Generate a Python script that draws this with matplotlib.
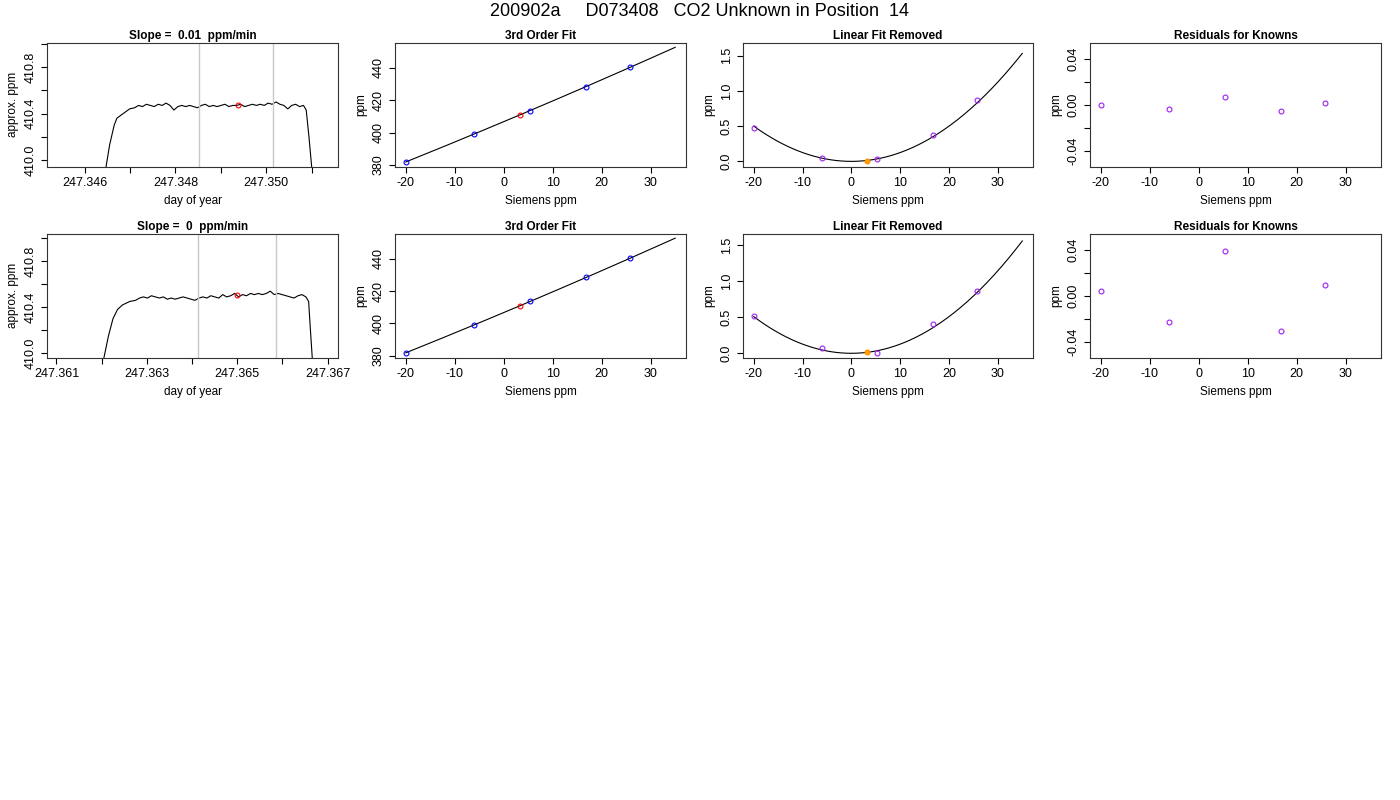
import numpy as np
import matplotlib
matplotlib.use("Agg")
import matplotlib.pyplot as plt

plt.rcParams['font.family'] = ['Liberation Sans', 'DejaVu Sans']
plt.rcParams['axes.unicode_minus'] = False

title = "200902a     D073408   CO2 Unknown in Position  14"
slopes = ["0.01", "0"]

# time series (row 1)
t1_rise = [247.34640, 247.34647, 247.34655, 247.34665, 247.34671, 247.34685, 247.34699]
v1_rise = [409.80, 409.94, 410.13, 410.30, 410.36, 410.40, 410.44]
v1_plat = [410.45, 410.47, 410.46, 410.48, 410.47, 410.46, 410.48, 410.47, 410.49, 410.47, 410.43,
           410.46, 410.47, 410.46, 410.47, 410.46, 410.45, 410.47, 410.48, 410.46, 410.47, 410.46,
           410.47, 410.48, 410.46, 410.47, 410.47, 410.48, 410.46, 410.47, 410.48, 410.47, 410.48,
           410.47, 410.49, 410.48, 410.50, 410.48, 410.47, 410.44, 410.47, 410.48, 410.46, 410.47]
t1_plat_range = (247.34710, 247.35082)
t1_drop = [247.35088, 247.35094, 247.35100, 247.35106]
v1_drop = [410.43, 410.20, 409.94, 409.80]
grey1 = [247.34851, 247.35014]
red1 = (247.34937, 410.47)

# time series (row 2)
t2_rise = [247.36198, 247.36205, 247.36215, 247.36225, 247.36235, 247.36246, 247.36262]
v2_rise = [409.80, 409.96, 410.15, 410.30, 410.38, 410.42, 410.45]
v2_plat = [410.46, 410.48, 410.49, 410.48, 410.50, 410.49, 410.48, 410.49, 410.47, 410.48, 410.47,
           410.48, 410.49, 410.48, 410.47, 410.46, 410.48, 410.49, 410.48, 410.50, 410.49, 410.48,
           410.51, 410.49, 410.50, 410.52, 410.49, 410.51, 410.50, 410.52, 410.51, 410.52, 410.51,
           410.52, 410.54, 410.51, 410.52, 410.51, 410.50, 410.49, 410.48, 410.50, 410.51, 410.49]
t2_plat_range = (247.36275, 247.36652)
t2_drop = [247.36658, 247.36662, 247.36666, 247.36670]
v2_drop = [410.45, 410.20, 409.96, 409.80]
grey2 = [247.36413, 247.36586]
red2 = (247.36500, 410.51)

# calibration
known_x = [-20.0, -6.0, 5.3, 16.8, 25.8]
unk_x = 3.3
fit_a, fit_b = 406.7, 1.27
fit_c = [0.00125, 0.00127]
fit_d = [0.0, 0.0]
known_y = [[381.8, 399.0, 413.6, 428.3, 440.2], [381.8, 399.0, 413.6, 428.4, 440.2]]
unk_y = [410.9, 410.9]
lin_known = [[0.48, 0.05, 0.03, 0.37, 0.87], [0.52, 0.07, 0.00, 0.40, 0.86]]
lin_unk = [0.01, 0.02]
resid = [[0.0003, -0.004, 0.0065, -0.0055, 0.0016], [0.0044, -0.0232, 0.0393, -0.0306, 0.0097]]

ts = [dict(tr=t1_rise, vr=v1_rise, vp=v1_plat, pr=t1_plat_range, td=t1_drop, vd=v1_drop,
           grey=grey1, red=red1, xlim=(247.34517, 247.35158), ylim=(409.94, 411.01),
           ticks=np.arange(247.346, 247.3515, 0.001), labs=[247.346, 247.348, 247.350]),
      dict(tr=t2_rise, vr=v2_rise, vp=v2_plat, pr=t2_plat_range, td=t2_drop, vd=v2_drop,
           grey=grey2, red=red2, xlim=(247.36079, 247.36723), ylim=(409.96, 411.04),
           ticks=np.arange(247.361, 247.3675, 0.001), labs=[247.361, 247.363, 247.365, 247.367])]

fig = plt.figure(figsize=(14, 8), dpi=100)
fig.text(0.5, 1 - 11/800, title, ha='center', va='center', fontsize=13)

cols = [(47, 338), (395, 686), (743, 1033), (1090, 1381)]
rows = [(42.9, 166.8), (233.8, 357.7)]
TS, LS = 9, 8.5
MS = 3.5

def mkax(c, r):
    l, rr = cols[c]; t, b = rows[r]
    ax = fig.add_axes([l/1400, 1 - b/800, (rr - l)/1400, (b - t)/800])
    ax.tick_params(direction='out', length=4, labelsize=TS, width=0.8)
    for s in ax.spines.values():
        s.set_linewidth(0.8); s.set_color('#333333')
    return ax

def yrot(ax, ticks, labels):
    ax.set_yticks(ticks)
    ax.set_yticklabels(labels, rotation=90, va='center')

xs = np.linspace(-20, 35, 200)
for r in range(2):
    d = ts[r]
    ax = mkax(0, r)
    tp = np.linspace(d['pr'][0], d['pr'][1], len(d['vp']))
    t = np.concatenate([d['tr'], tp, d['td']]); v = np.concatenate([d['vr'], d['vp'], d['vd']])
    ax.plot(t, v, color='black', lw=0.8)
    for g in d['grey']:
        ax.axvline(g, color='#c8c8c8', lw=1)
    ax.plot([d['red'][0]], [d['red'][1]], 'o', mfc='none', mec='red', ms=MS, mew=0.8)
    ax.set_xlim(*d['xlim']); ax.set_ylim(*d['ylim'])
    ax.set_xticks(d['ticks'])
    ax.set_xticklabels([("%.3f" % x) if any(abs(x - L) < 1e-6 for L in d['labs']) else '' for x in d['ticks']])
    yt = np.arange(410.0, 411.05, 0.2)
    yrot(ax, yt, [("%.1f" % y) if i % 2 == 0 else '' for i, y in enumerate(yt)])
    ax.set_xlabel('day of year', fontsize=LS); ax.set_ylabel('approx. ppm', fontsize=LS)
    ax.set_title('Slope =  %s  ppm/min' % slopes[r], fontsize=LS, fontweight='bold', pad=3)

    # 3rd order fit
    ax = mkax(1, r)
    ax.plot(xs, fit_a + fit_b*xs + fit_c[r]*xs**2 + fit_d[r]*xs**3, color='black', lw=0.8)
    ax.plot(known_x, known_y[r], 'o', mfc='none', mec='blue', ms=MS, mew=0.8)
    ax.plot([unk_x], [unk_y[r]], 'o', mfc='none', mec='red', ms=MS, mew=0.8)
    ax.set_xlim(-22.2, 37.2); ax.set_ylim(378.8, 455.4)
    ax.set_xticks(range(-20, 31, 10))
    yrot(ax, range(380, 441, 20), [str(v) for v in range(380, 441, 20)])
    ax.set_xlabel('Siemens ppm', fontsize=LS); ax.set_ylabel('ppm', fontsize=LS)
    ax.set_title('3rd Order Fit', fontsize=LS, fontweight='bold', pad=3)

    # linear fit removed
    ax = mkax(2, r)
    ax.plot(xs, fit_c[r]*xs**2 + fit_d[r]*xs**3, color='black', lw=0.8)
    ax.plot(known_x, lin_known[r], 'o', mfc='none', mec='#A020F0', ms=MS, mew=0.8)
    ax.plot([unk_x], [lin_unk[r]], 'o', mfc='#FFA500', mec='#FF8C00', ms=MS, mew=0.8)
    ax.set_xlim(-22.2, 37.2)
    ax.set_ylim(*((-0.077, 1.68) if r == 0 else (-0.061, 1.655)))
    ax.set_xticks(range(-20, 31, 10))
    yrot(ax, [0, 0.5, 1.0, 1.5], ['0.0', '0.5', '1.0', '1.5'])
    ax.set_xlabel('Siemens ppm', fontsize=LS); ax.set_ylabel('ppm', fontsize=LS)
    ax.set_title('Linear Fit Removed', fontsize=LS, fontweight='bold', pad=3)

    # residuals
    ax = mkax(3, r)
    ax.plot(known_x, resid[r], 'o', mfc='none', mec='#A020F0', ms=MS, mew=0.8)
    ax.set_xlim(-22.2, 37.2); ax.set_ylim(-0.054, 0.054)
    ax.set_xticks(range(-20, 31, 10))
    yt = [-0.04, -0.02, 0.0, 0.02, 0.04]
    yrot(ax, yt, ['-0.04', '', '0.00', '', '0.04'])
    ax.set_xlabel('Siemens ppm', fontsize=LS); ax.set_ylabel('ppm', fontsize=LS)
    ax.set_title('Residuals for Knowns', fontsize=LS, fontweight='bold', pad=3)

fig.savefig('out.png', dpi=100)
